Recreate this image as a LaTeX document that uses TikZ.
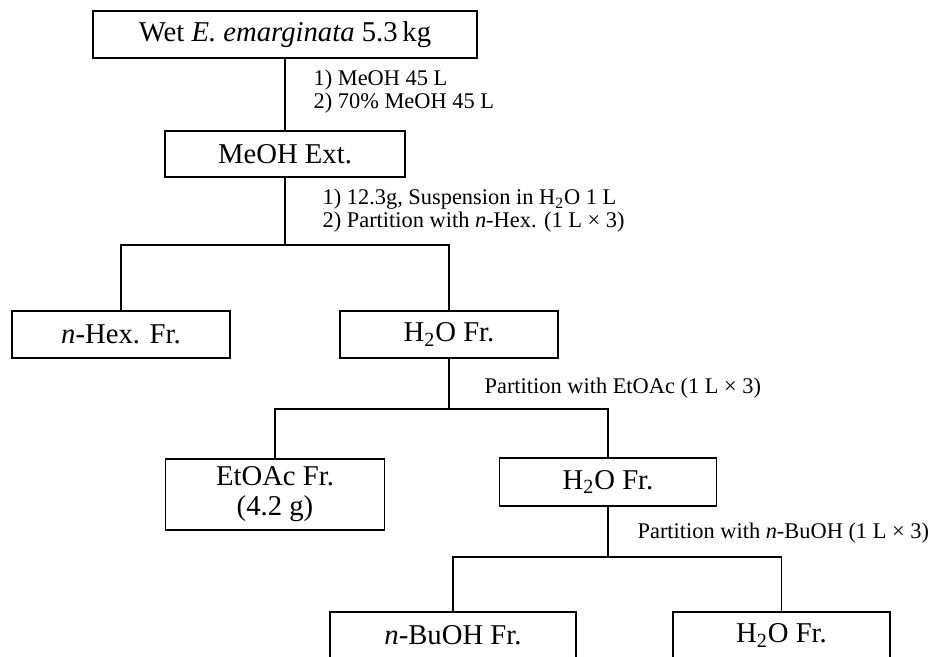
\documentclass[tikz,border=0pt]{standalone}
\usepackage{fontspec}
\setmainfont{Liberation Serif}
\tikzset{
  box/.style={draw, line width=0.6pt, inner sep=0pt, align=center, font=\fontsize{14.35}{15}\selectfont},
  cond/.style={inner sep=0pt, anchor=west, align=left, font=\fontsize{11.2}{11.5}\selectfont},
}
\begin{document}
\begin{tikzpicture}[x=0.5pt, y=-0.5pt, line width=0.6pt]
  \useasboundingbox (0,0) rectangle (930,657);
  % extraction
  \node[box, minimum width=192pt, minimum height=23.5pt] (wet) at (285,34.5) {Wet \textit{E. emarginata} 5.3\,kg};
  \node[box, minimum width=120pt, minimum height=23pt] (meoh) at (285,154) {MeOH Ext.};
  \draw (wet) -- (meoh);
  \node[cond] (c1) at (313,92) {1) MeOH 45 L\\2) 70\% MeOH 45 L};
  % n-hexane partition
  \node[box, minimum width=109pt, minimum height=23.5pt] (hex) at (121,334.5) {\textit{n}-Hex. Fr.};
  \node[box, minimum width=109pt, minimum height=23.5pt] (wa) at (449,334.5) {H\textsubscript{2}O Fr.};
  \coordinate (b1) at (285,245);
  \draw (meoh) -- (b1);
  \draw (hex.north) |- (b1) -| (wa.north);
  \node[cond] (c2) at (322,211) {1) 12.3g, Suspension in H\textsubscript{2}O 1 L\\2) Partition with \textit{n}-Hex. (1 L × 3)};
  % EtOAc partition
  \node[box, minimum width=109.5pt, minimum height=35.5pt] (eto) at (275,494.5) {EtOAc Fr.\\(4.2 g)};
  \node[box, minimum width=108.5pt, minimum height=24pt] (wb) at (608,482) {H\textsubscript{2}O Fr.};
  \coordinate (b2) at (449,409);
  \draw (wa) -- (b2);
  \draw (eto.north) |- (b2) -| (wb.north);
  \node[cond] (c3) at (484,388) {Partition with EtOAc (1 L × 3)};
  % n-BuOH partition
  \node[box, minimum width=123pt, minimum height=23.5pt] (buoh) at (453,635.5) {\textit{n}-BuOH Fr.};
  \node[box, minimum width=108.5pt, minimum height=23.5pt] (wc) at (781.5,635.5) {H\textsubscript{2}O Fr.};
  \coordinate (b3) at (608,557);
  \draw (wb) -- (b3);
  \draw (buoh.north) |- (b3) -| (wc.north);
  \node[cond] (c4) at (637,533) {Partition with \textit{n}-BuOH (1 L × 3)};
\end{tikzpicture}
\end{document}
